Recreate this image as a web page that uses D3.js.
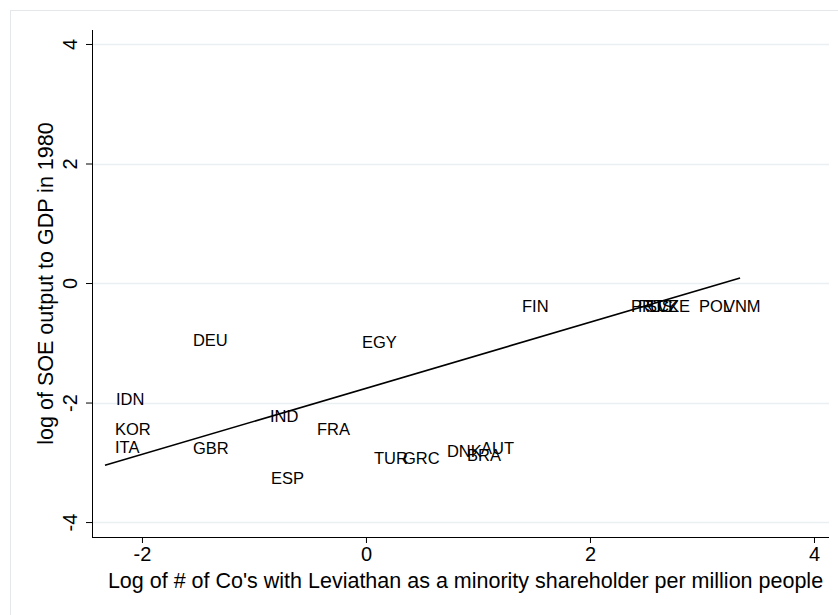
<!DOCTYPE html>
<html>
<head>
<meta charset="utf-8">
<script src="https://cdn.jsdelivr.net/npm/d3@7"></script>
<style>
  body { margin: 0; background: #fff; }
  text { font-family: "Liberation Sans", Arial, sans-serif; fill: #000; }
</style>
</head>
<body>
<div id="chart"></div>
<script>
// country labels and their positions (x = log # of Co's, y = log SOE output)
var countries = ["DEU", "EGY", "IDN", "KOR", "ITA", "GBR", "IND", "FRA", "ESP", "TUR", "GRC",
                 "DNK", "BRA", "AUT", "FIN", "PRT", "RUS", "SVK", "CZE", "POL", "VNM"];
var xVals = [-1.545, -0.036, -2.232, -2.241, -2.241, -1.545, -0.857, -0.438, -0.848, 0.071, 0.330,
             0.723, 0.902, 1.027, 1.393, 2.366, 2.429, 2.500, 2.598, 2.973, 3.196];
var yVals = [-0.954, -0.987, -1.941, -2.443, -2.745, -2.762, -2.226, -2.443, -3.264, -2.929, -2.929,
             -2.812, -2.879, -2.762, -0.385, -0.385, -0.385, -0.385, -0.385, -0.385, -0.385];

// fitted line end points
var fitX = [-2.33, 3.34];
var fitY = [-3.05, 0.084];

var xTicks = [-2, 0, 2, 4];
var yTicks = [-4, -2, 0, 2, 4];

var xTitle = "Log of # of Co's with Leviathan as a minority shareholder per million people";
var yTitle = "log of SOE output to GDP in 1980";

var w = 838, h = 615;
var pLeft = 92, pRight = 829, pTop = 30, pBottom = 537;

var svg = d3.select("#chart").append("svg")
    .attr("width", w).attr("height", h);

// outer graph region frame
svg.append("rect")
    .attr("x", 10.5).attr("y", 10.5)
    .attr("width", w).attr("height", h)
    .attr("fill", "#fff")
    .attr("stroke", "#e4e8ea");

var xScale = d3.scaleLinear()
    .domain([-2.446, 4.134])
    .range([pLeft, pRight]);

var yScale = d3.scaleLinear()
    .domain([-4.25, 4.234])
    .range([pBottom, pTop]);

// grid lines
svg.append("g")
    .selectAll("line")
    .data(yTicks)
    .enter()
    .append("line")
    .attr("x1", pLeft).attr("x2", pRight)
    .attr("y1", function(d){ return Math.round(yScale(d)) + 0.5; })
    .attr("y2", function(d){ return Math.round(yScale(d)) + 0.5; })
    .attr("stroke", "#eaf0f2")
    .attr("stroke-width", 1.5);

// axes
var fmt = function(d){ return String(d); };
var xAxis = d3.axisBottom(xScale).tickValues(xTicks).tickSize(6).tickPadding(4)
    .tickFormat(fmt);
var yAxis = d3.axisLeft(yScale).tickValues(yTicks).tickSize(6)
    .tickFormat(fmt);

var gx = svg.append("g")
    .attr("transform", "translate(0," + pBottom + ")")
    .call(xAxis);
gx.select(".domain").attr("d", "M" + pLeft + ",0.5H" + pRight).attr("stroke", "#000");
gx.selectAll(".tick line").attr("stroke", "#000");
gx.selectAll(".tick text")
    .style("font-size", "20px")
    .attr("font-family", null);

var gy = svg.append("g")
    .attr("transform", "translate(" + pLeft + ",0)")
    .call(yAxis);
gy.select(".domain").attr("d", "M0.5," + pTop + "V" + pBottom).attr("stroke", "#000");
gy.selectAll(".tick line").attr("stroke", "#000");
gy.selectAll(".tick text")
    .style("font-size", "20px")
    .attr("font-family", null)
    .attr("text-anchor", "middle")
    .attr("dy", null)
    .attr("x", 0)
    .attr("y", 0)
    .attr("transform", "translate(-15,0) rotate(-90)");

// axis titles
svg.append("text")
    .attr("x", (pLeft + pRight) / 2 + 5)
    .attr("y", 588)
    .attr("text-anchor", "middle")
    .style("font-size", "21.5px")
    .text(xTitle);

svg.append("text")
    .attr("transform", "translate(53," + ((pTop + pBottom) / 2) + ") rotate(-90)")
    .attr("text-anchor", "middle")
    .style("font-size", "21.5px")
    .text(yTitle);

// fitted line
var line = d3.line()
    .x(function(d){ return xScale(d[0]); })
    .y(function(d){ return yScale(d[1]); });

svg.append("path")
    .datum(fitX.map(function(d, i){ return [d, fitY[i]]; }))
    .attr("d", line)
    .attr("fill", "none")
    .attr("stroke", "#000")
    .attr("stroke-width", 1.6);

// country labels
svg.append("g")
    .selectAll("text")
    .data(countries)
    .enter()
    .append("text")
    .attr("x", function(d, i){ return xScale(xVals[i]); })
    .attr("y", function(d, i){ return yScale(yVals[i]); })
    .attr("dy", "0.36em")
    .style("font-size", "16.5px")
    .text(function(d){ return d; });
</script>
</body>
</html>
